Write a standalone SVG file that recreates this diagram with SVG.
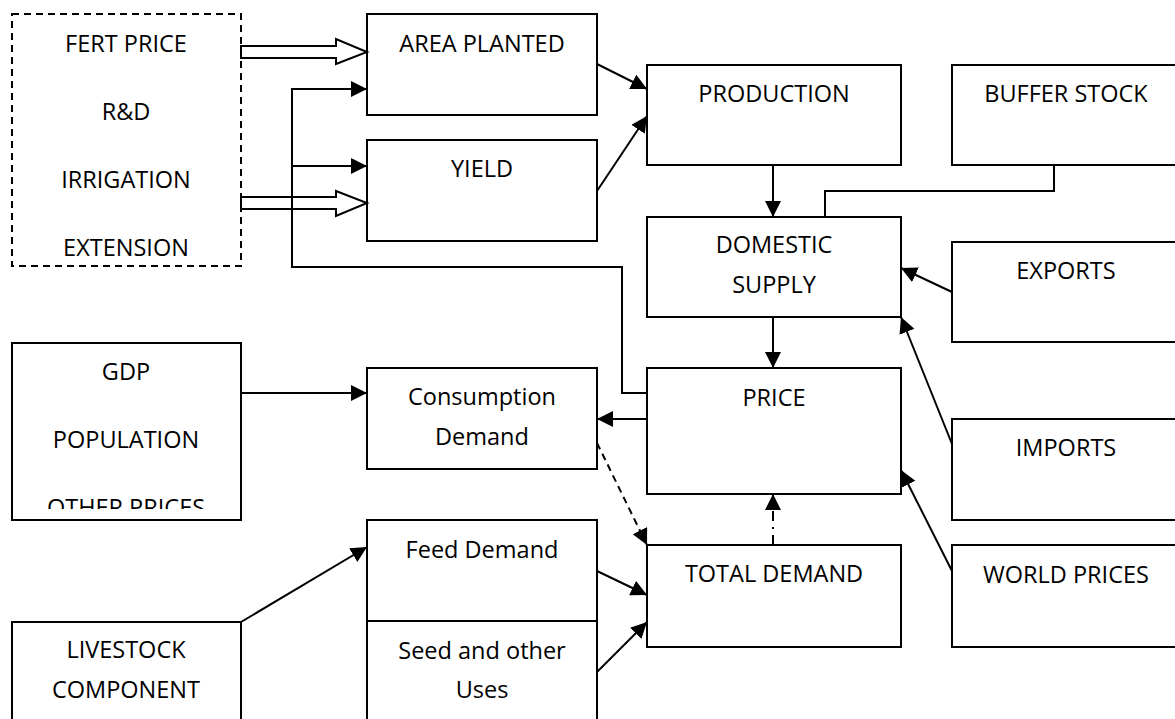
<svg xmlns="http://www.w3.org/2000/svg" width="1175" height="719" viewBox="0 0 1175 719">
<style>
.box{fill:#fff;stroke:#000;stroke-width:2}
.dbox{fill:none;stroke:#000;stroke-width:2;stroke-dasharray:7 5}
.t{font-family:"Open Sans","Liberation Sans",sans-serif;font-size:23.5px;fill:#000;text-anchor:middle}
.c{fill:none;stroke:#000;stroke-width:2}
.blk{fill:#fff;stroke:#000;stroke-width:2;stroke-linejoin:miter}
</style>
<defs>
<marker id="ah" markerUnits="userSpaceOnUse" markerWidth="18" markerHeight="18" refX="16" refY="8" orient="auto">
<path d="M0,0 L16,8 L0,16 z" fill="#000"/>
</marker>
<clipPath id="gdpclip"><rect x="12" y="343" width="230" height="166"/></clipPath>
</defs>
<rect width="1175" height="719" fill="#fff"/>

<g id="inputs">
<rect class="dbox" x="12" y="14" width="229" height="252"/>
<text class="t" x="126" y="52">FERT PRICE</text>
<text class="t" x="126" y="120">R&amp;D</text>
<text class="t" x="126" y="188">IRRIGATION</text>
<text class="t" x="126" y="256">EXTENSION</text>
</g>
<g id="area-planted">
<rect class="box" x="367" y="14" width="230" height="101"/>
<text class="t" x="482" y="52">AREA PLANTED</text>
</g>
<g id="yield">
<rect class="box" x="367" y="140" width="230" height="101"/>
<text class="t" x="482" y="177">YIELD</text>
</g>
<g id="production">
<rect class="box" x="647" y="65" width="254" height="100"/>
<text class="t" x="774" y="102">PRODUCTION</text>
</g>
<g id="buffer-stock">
<rect class="box" x="952" y="65" width="240" height="100"/>
<text class="t" x="1066" y="102">BUFFER STOCK</text>
</g>
<g id="domestic-supply">
<rect class="box" x="647" y="217" width="254" height="100"/>
<text class="t" x="774" y="253">DOMESTIC</text>
<text class="t" x="774" y="293">SUPPLY</text>
</g>
<g id="exports">
<rect class="box" x="952" y="242" width="240" height="100"/>
<text class="t" x="1066" y="279">EXPORTS</text>
</g>
<g id="price">
<rect class="box" x="647" y="368" width="254" height="126"/>
<text class="t" x="774" y="406">PRICE</text>
</g>
<g id="imports">
<rect class="box" x="952" y="419" width="240" height="101"/>
<text class="t" x="1066" y="456">IMPORTS</text>
</g>
<g id="world-prices">
<rect class="box" x="952" y="545" width="240" height="102"/>
<text class="t" x="1066" y="583">WORLD PRICES</text>
</g>
<g id="total-demand">
<rect class="box" x="647" y="545" width="254" height="102"/>
<text class="t" x="774" y="582">TOTAL DEMAND</text>
</g>
<g id="consumption-demand">
<rect class="box" x="367" y="368" width="230" height="101"/>
<text class="t" x="482" y="405">Consumption</text>
<text class="t" x="482" y="445">Demand</text>
</g>
<g id="gdp">
<rect class="box" x="12" y="343" width="229" height="177"/>
<text class="t" x="126" y="380">GDP</text>
<text class="t" x="126" y="448">POPULATION</text>
<text class="t" x="126" y="516" clip-path="url(#gdpclip)">OTHER PRICES</text>
</g>
<g id="feed-demand">
<rect class="box" x="367" y="520" width="230" height="101"/>
<text class="t" x="482" y="558">Feed Demand</text>
</g>
<g id="seed-uses">
<rect class="box" x="367" y="621" width="230" height="110"/>
<text class="t" x="482" y="659">Seed and other</text>
<text class="t" x="482" y="698">Uses</text>
</g>
<g id="livestock">
<rect class="box" x="12" y="622" width="229" height="110"/>
<text class="t" x="126" y="658">LIVESTOCK</text>
<text class="t" x="126" y="698">COMPONENT</text>
</g>

<g id="connectors">
<polygon class="blk" points="241,46 336,46 336,39 367,52 336,64 336,58 241,58"/>
<polygon class="blk" points="241,197 336,197 336,191 367,203 336,216 336,209 241,209"/>
<polyline class="c" points="647,393 622,393 622,267 292,267 292,89 367,89" marker-end="url(#ah)"/>
<line class="c" x1="292" y1="166" x2="367" y2="166" marker-end="url(#ah)"/>
<line class="c" x1="597" y1="64" x2="647" y2="89" marker-end="url(#ah)"/>
<line class="c" x1="597" y1="191" x2="647" y2="116" marker-end="url(#ah)"/>
<line class="c" x1="773" y1="165" x2="773" y2="217" marker-end="url(#ah)"/>
<polyline class="c" points="1054,165 1054,191 825,191 825,217"/>
<line class="c" x1="952" y1="292" x2="901" y2="268" marker-end="url(#ah)"/>
<line class="c" x1="952" y1="444" x2="901" y2="317" marker-end="url(#ah)"/>
<line class="c" x1="952" y1="571" x2="901" y2="470" marker-end="url(#ah)"/>
<line class="c" x1="773" y1="317" x2="773" y2="368" marker-end="url(#ah)"/>
<line class="c" x1="647" y1="419" x2="597" y2="419" marker-end="url(#ah)"/>
<line class="c" x1="241" y1="393" x2="367" y2="393" marker-end="url(#ah)"/>
<line class="c" x1="597" y1="443" x2="647" y2="545" stroke-dasharray="7 5" marker-end="url(#ah)"/>
<line class="c" x1="773" y1="545" x2="773" y2="494" stroke-dasharray="10 6 2 6" marker-end="url(#ah)"/>
<line class="c" x1="597" y1="571" x2="647" y2="595" marker-end="url(#ah)"/>
<line class="c" x1="597" y1="672" x2="647" y2="622" marker-end="url(#ah)"/>
<line class="c" x1="241" y1="622" x2="367" y2="547" marker-end="url(#ah)"/>
</g>
</svg>
